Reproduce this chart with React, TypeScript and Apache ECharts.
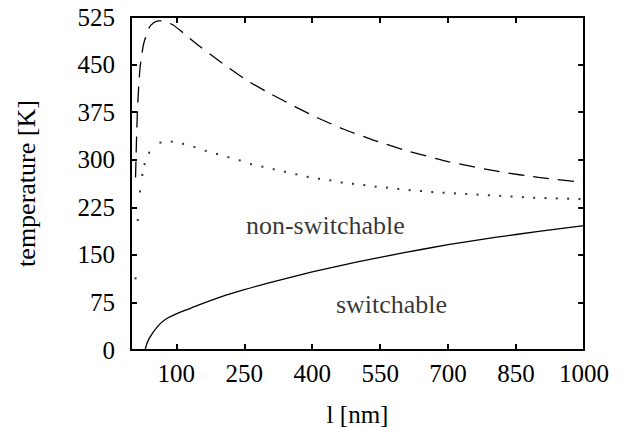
import React, { useEffect, useRef } from "react";
import * as echarts from "echarts";

const xRange = [0, 1000];
const yRange = [0, 525];
const xTickValues = [100, 250, 400, 550, 700, 850, 1000];
const yTickValues = [0, 75, 150, 225, 300, 375, 450, 525];
const yTickInterval = 75;

const solidX = [31, 35, 40, 50, 65, 80, 100, 125, 150, 200, 250, 300, 400, 500, 600, 700, 800, 900, 1000];
const solidY = [0, 10, 18, 29, 42, 50, 57, 64, 71, 84, 95, 105, 123, 139, 153, 166, 177, 187, 196];

const dashedX = [10, 11, 12.5, 15, 20, 28, 40, 50, 61, 75, 94, 120, 153, 200, 256, 300, 364, 415, 470, 535, 605, 700, 815, 900, 1000];
const dashedY = [272, 300, 340, 390, 445, 483, 508, 516, 519, 518, 512, 497, 478, 453, 425, 407, 383, 365, 348, 331, 315, 297, 281, 272, 264];

const dottedX = [10, 15, 20, 25, 30, 40, 65, 90, 115, 140, 165, 190, 215, 240, 265, 290, 315, 340, 365, 390, 415, 440, 465, 490, 515, 540, 565, 590, 615, 640, 665, 690, 715, 740, 765, 790, 815, 840, 865, 890, 915, 940, 965, 990];
const dottedY = [113, 205, 250, 276, 293, 311, 327, 328.5, 325, 320, 314, 309, 304, 299, 293, 289, 285, 281, 277, 273, 270, 267.5, 264, 262, 260, 257.5, 256, 254, 252, 250.7, 249, 248, 247, 246, 245, 244, 243, 242, 241, 240, 239.5, 239, 238.5, 238];

const annotationNames = ["non-switchable", "switchable"];
const annotationX = [429, 575];
const annotationY = [196, 72];

const FONT = "Liberation Serif";

export default function App() {
  const ref = useRef<HTMLDivElement>(null);
  useEffect(() => {
    if (!ref.current) return;
    const chart = echarts.init(ref.current, null, { renderer: "svg" });
    const zip = (xs: number[], ys: number[]) => xs.map((x, i) => [x, ys[i]]);
    const axisLine = () => ({ show: true, onZero: false, lineStyle: { color: "#000", width: 2 } });
    const labelStyle = (fs = 25) => ({ color: "#000", fontSize: fs, fontFamily: FONT });
    const fmt = (v: number) => String(v);
    // tick length expressed in data units (about 6 px)
    const TX = 13;
    const TY = 9.5;
    const seg = (a: number[], b: number[]) => [{ coord: a }, { coord: b }];
    const frameLines = [
      seg([xRange[0], yRange[1]], [xRange[1], yRange[1]]),
      seg([xRange[1], yRange[1]], [xRange[1], yRange[0]]),
      ...xTickValues.map((v) => seg([v, yRange[0]], [v, yRange[0] + TY])),
      ...xTickValues.map((v) => seg([v, yRange[1]], [v, yRange[1] - TY])),
      ...yTickValues.map((v) => seg([xRange[0], v], [xRange[0] + TX, v])),
      ...yTickValues.map((v) => seg([xRange[1], v], [xRange[1] - TX, v])),
    ];
    chart.setOption({
      animation: false,
      backgroundColor: "#fff",
      textStyle: { fontFamily: FONT },
      grid: {
        left: 131,
        right: 42,
        top: 17,
        bottom: 78,
        containLabel: false,
        outerBoundsMode: "none",
        show: true,
        borderColor: "#000",
        borderWidth: 2,
      },
      xAxis: {
        type: "value",
        min: xRange[0],
        max: xRange[1],
        position: "bottom",
        axisLine: axisLine(),
        axisTick: { show: true, inside: true, length: 6, customValues: xTickValues, lineStyle: { color: "#000", width: 2 } },
        axisLabel: { ...labelStyle(), margin: 11, formatter: fmt, customValues: xTickValues },
        splitLine: { show: false },
        name: "l [nm]",
        nameLocation: "middle",
        nameGap: 52,
        nameTextStyle: labelStyle(),
      },
      yAxis: {
        type: "value",
        min: yRange[0],
        max: yRange[1],
        interval: yTickInterval,
        position: "left",
        axisLine: axisLine(),
        axisTick: { show: true, inside: true, length: 6, lineStyle: { color: "#000", width: 2 } },
        axisLabel: { ...labelStyle(), margin: 16, formatter: fmt },
        splitLine: { show: false },
        name: "temperature [K]",
        nameLocation: "middle",
        nameGap: 92,
        nameTextStyle: labelStyle(26),
      },
      series: [
        {
          type: "line",
          data: zip(solidX, solidY),
          showSymbol: false,
          smooth: 0.2,
          lineStyle: { color: "#000", width: 1.3 },
          silent: true,
          markLine: {
            silent: true,
            symbol: ["none", "none"],
            label: { show: false },
            lineStyle: { color: "#000", width: 2, type: "solid" },
            emphasis: { disabled: true },
            data: frameLines,
          },
        },
        {
          type: "line",
          data: zip(dashedX, dashedY),
          showSymbol: false,
          smooth: 0.2,
          lineStyle: { color: "#000", width: 1.3, type: [16, 9] },
          silent: true,
        },
        {
          type: "scatter",
          data: zip(dottedX, dottedY),
          symbol: "rect",
          symbolSize: 2,
          itemStyle: { color: "#000" },
          silent: true,
        },
        {
          type: "scatter",
          data: annotationNames.map((n, i) => ({ name: n, value: [annotationX[i], annotationY[i]] })),
          symbolSize: 0,
          silent: true,
          label: {
            show: true,
            position: "inside",
            formatter: "{b}",
            ...labelStyle(26),
          },
        },
      ],
    });
    return () => chart.dispose();
  }, []);
  return (
    <div
      ref={ref}
      style={{ position: "absolute", left: 0, top: 0, width: 626, height: 428 }}
    />
  );
}
